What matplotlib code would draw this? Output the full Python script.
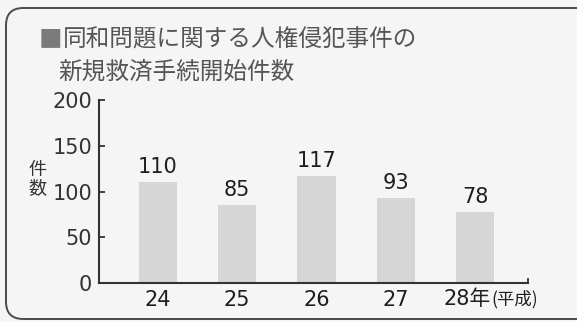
import matplotlib.pyplot as plt
from matplotlib.patches import FancyBboxPatch

plt.rcParams['font.family'] = ['DejaVu Sans', 'Noto Sans CJK JP']

# data
years = [24, 25, 26, 27, 28]
counts = [110, 85, 117, 93, 78]
tick_labels = ['24', '25', '26', '27', '']
yticks = [0, 50, 100, 150, 200]

TXT = '#333333'
BG = '#f5f5f5'
W, H = 577, 322
CJK = ['Noto Sans CJK JP', 'DejaVu Sans']

fig = plt.figure(figsize=(5.77, 3.22), dpi=100, facecolor=BG)

# rounded frame, cut off at the right like the scan
frame = FancyBboxPatch((6 / W, 3 / H), 1.1, (314 - 3) / H,
                       boxstyle='round,pad=0,rounding_size=0.03',
                       transform=fig.transFigure, fill=False,
                       edgecolor='#4a4a4a', linewidth=1.4, mutation_aspect=W / H)
fig.patches.append(frame)

ax = fig.add_axes([99 / W, 1 - 283 / H, (528 - 99) / W, 183 / H])
ax.set_facecolor('none')
ax.bar(years, counts, width=0.48, color='#d6d6d6', zorder=2)
for x, v in zip(years, counts):
    ax.annotate(str(v), (x, v), xytext=(0, 3.5), textcoords='offset points',
                ha='center', va='bottom', fontsize=15, color='#1e1e1e')

ax.set_xlim(24 - 59 / 79.3, 28 + 53 / 79.3)
ax.set_ylim(0, 200)
ax.set_yticks(yticks)
ax.set_yticklabels([str(t) for t in yticks], fontsize=15, color=TXT)
ax.set_xticks(years)
ax.set_xticklabels(tick_labels, fontsize=15, color='#1e1e1e')
ax.tick_params(axis='y', direction='in', length=4, width=1.3, pad=5, color='#333333')
ax.tick_params(axis='x', length=0, pad=5)
for s in ['top', 'right']:
    ax.spines[s].set_visible(False)
for s in ['left', 'bottom']:
    ax.spines[s].set_linewidth(1.5)
    ax.spines[s].set_color('#333333')
# small end tick on the x axis
ax.plot([28 + 53 / 79.3] * 2, [0, 4], color='#333333', lw=1.3, clip_on=False)

# last year label with era
fig.text(491 / W, 1 - 299 / H, '28年', fontsize=15, color='#1e1e1e', ha='right', va='center')
fig.text(491 / W, 1 - 299 / H, '(平成)', fontsize=12.5, color='#1e1e1e', ha='left', va='center',
         family=CJK)

# y axis unit
fig.text(37 / W, 1 - 179 / H, '件\n数', fontsize=13, color=TXT, ha='center', va='center',
         linespacing=1.0, family=CJK)

# title
fig.text(39 / W, 1 - 40 / H, '■', fontsize=17, color='#7a7a7a',
         ha='left', va='center', family=CJK)
fig.text(63 / W, 1 - 40 / H, '同和問題に関する人権侵犯事件の', fontsize=17, color='#555555',
         ha='left', va='center', family=CJK)
fig.text(58 / W, 1 - 72 / H, '新規救済手続開始件数', fontsize=17, color='#555555',
         ha='left', va='center', family=CJK)

fig.savefig('out.png', dpi=100, facecolor=BG)
